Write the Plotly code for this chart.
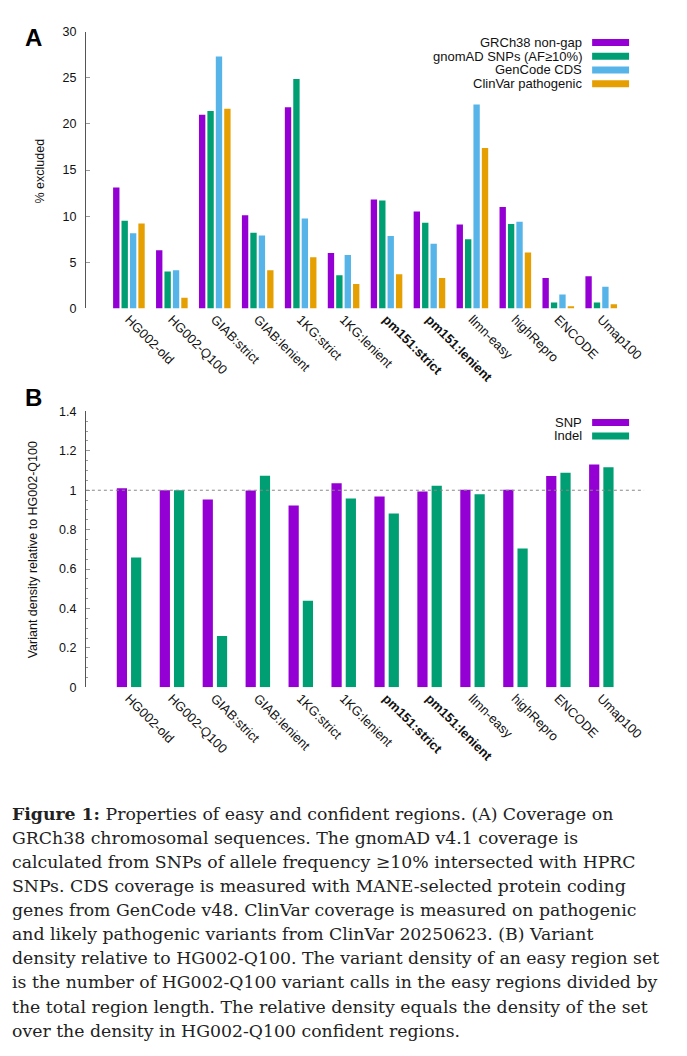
import plotly.graph_objects as go

# Page body has an 8px default margin; figure is sized to fit inside the window.
PAGE_W, PAGE_H = 687, 1056
BODY_MARGIN = 8
W, H = PAGE_W - 2 * BODY_MARGIN, PAGE_H - 2 * BODY_MARGIN
# observed vertical placement of the figure in the captured page
Y_OFF, Y_SCALE = 14.4, 0.987

categories = ["HG002-old", "HG002-Q100", "GIAB:strict", "GIAB:lenient", "1KG:strict",
              "1KG:lenient", "pm151:strict", "pm151:lenient", "llmn-easy", "highRepro",
              "ENCODE", "Umap100"]
tick_labels = ["HG002-old", "HG002-Q100", "GIAB:strict", "GIAB:lenient", "1KG:strict",
               "1KG:lenient", "<b>pm151:strict</b>", "<b>pm151:lenient</b>", "llmn-easy",
               "highRepro", "ENCODE", "Umap100"]

# Panel A: % excluded
series_a_names = ["GRCh38 non-gap", "gnomAD SNPs (AF≥10%)", "GenCode CDS", "ClinVar pathogenic"]
grch38_nongap = [13.1, 6.3, 21.0, 10.1, 21.8, 6.0, 11.8, 10.5, 9.1, 11.0, 3.3, 3.5]
gnomad_snps = [9.5, 4.0, 21.4, 8.2, 24.85, 3.6, 11.7, 9.3, 7.5, 9.15, 0.65, 0.65]
gencode_cds = [8.15, 4.15, 27.3, 7.9, 9.75, 5.8, 7.85, 7.0, 22.1, 9.4, 1.5, 2.35]
clinvar_path = [9.2, 1.15, 21.65, 4.15, 5.55, 2.65, 3.7, 3.3, 17.4, 6.05, 0.25, 0.45]

# Panel B: variant density relative to HG002-Q100
series_b_names = ["SNP", "Indel"]
snp_density = [1.01, 1.0, 0.953, 0.998, 0.922, 1.035, 0.968, 0.993, 1.003, 1.003, 1.072, 1.13]
indel_density = [0.659, 1.0, 0.26, 1.074, 0.439, 0.958, 0.882, 1.023, 0.98, 0.704, 1.089, 1.116]

colors = ["#9400D3", "#009E73", "#56B4E9", "#E69F00"]

caption_lines = [
    "<b>Figure 1:</b> Properties of easy and confident regions. (A) Coverage on",
    "GRCh38 chromosomal sequences. The gnomAD v4.1 coverage is",
    "calculated from SNPs of allele frequency ≥10% intersected with HPRC",
    "SNPs. CDS coverage is measured with MANE-selected protein coding",
    "genes from GenCode v48. ClinVar coverage is measured on pathogenic",
    "and likely pathogenic variants from ClinVar 20250623. (B) Variant",
    "density relative to HG002-Q100. The variant density of an easy region set",
    "is the number of HG002-Q100 variant calls in the easy regions divided by",
    "the total region length. The relative density equals the density of the set",
    "over the density in HG002-Q100 confident regions.",
]

# bar geometry (category units)
A_WIDTH = 0.148
A_OFFSETS = [-0.366, -0.170, 0.026, 0.222]
B_WIDTH = 0.238
B_OFFSETS = [-0.280, 0.052]

fig = go.Figure()
for name, vals, col, off in zip(series_a_names, [grch38_nongap, gnomad_snps, gencode_cds, clinvar_path],
                                colors, A_OFFSETS):
    fig.add_trace(go.Bar(x=categories, y=vals, name=name, marker_color=col,
                         marker_line_width=0, xaxis="x", yaxis="y", showlegend=False,
                         width=A_WIDTH, offset=off))
for name, vals, col, off in zip(series_b_names, [snp_density, indel_density], colors[:2], B_OFFSETS):
    fig.add_trace(go.Bar(x=categories, y=vals, name=name, marker_color=col,
                         marker_line_width=0, xaxis="x2", yaxis="y2", showlegend=False,
                         width=B_WIDTH, offset=off))


def px_x(x):
    """target page pixel -> paper fraction"""
    return (x - BODY_MARGIN) / W


def px_y(y):
    return 1 - ((y - Y_OFF) / Y_SCALE) / H


sans = "Liberation Sans, Arial, sans-serif"
xdom = [px_x(86), px_x(645)]
tickfont = dict(family=sans, size=13, color="#111")
common_x = dict(type="category", range=[-1, 12], tickvals=categories, ticktext=tick_labels,
                tickangle=45, showline=False, showgrid=False, zeroline=False, ticks="",
                tickfont=tickfont, domain=xdom)
common_y = dict(showline=True, linecolor="#555", linewidth=1, showgrid=False, zeroline=False,
                ticks="inside", ticklen=4, tickcolor="#999", tickwidth=1,
                tickfont=dict(family=sans, size=12.5, color="#111"),
                ticklabelstandoff=6)

fig.update_layout(
    width=W, height=H, margin=dict(l=0, r=0, t=0, b=0),
    paper_bgcolor="white", plot_bgcolor="white",
    barmode="overlay",
    xaxis=dict(**common_x, anchor="y"),
    yaxis=dict(**common_y, range=[0, 30], dtick=5,
               domain=[px_y(308), px_y(31)], anchor="x"),
    xaxis2=dict(**common_x, anchor="y2"),
    yaxis2=dict(**common_y, range=[0, 1.4], dtick=0.2, tickformat="~g",
                minor=dict(ticks="inside", dtick=0.05, ticklen=2, tickcolor="#999"),
                domain=[px_y(687), px_y(411)], anchor="x2"),
    font=dict(family=sans),
)

shapes = []
annotations = []

# dotted reference line at 1 in panel B
shapes.append(dict(type="line", xref="x2 domain", yref="y2", x0=0, x1=1, y0=1, y1=1,
                   line=dict(color="#888", width=1, dash="dot")))

# Legends: right-aligned text with the swatch on the right
legfont = dict(family=sans, size=13, color="#111")
for i, (name, col) in enumerate(zip(series_a_names, colors)):
    yc = 42 + 13.7 * i
    annotations.append(dict(x=px_x(585), y=px_y(yc), xref="paper", yref="paper", text=name,
                            showarrow=False, xanchor="right", yanchor="middle", font=legfont))
    shapes.append(dict(type="rect", xref="paper", yref="paper", x0=px_x(593), x1=px_x(630),
                       y0=px_y(yc + 3.5), y1=px_y(yc - 3.5), fillcolor=col, line=dict(width=0)))
for i, (name, col) in enumerate(zip(series_b_names, colors[:2])):
    yc = 422 + 13.5 * i
    annotations.append(dict(x=px_x(585), y=px_y(yc), xref="paper", yref="paper", text=name,
                            showarrow=False, xanchor="right", yanchor="middle", font=legfont))
    shapes.append(dict(type="rect", xref="paper", yref="paper", x0=px_x(593), x1=px_x(630),
                       y0=px_y(yc + 3.5), y1=px_y(yc - 3.5), fillcolor=col, line=dict(width=0)))

# Axis titles
annotations.append(dict(x=px_x(40), y=px_y(170), xref="paper", yref="paper", text="% excluded",
                        textangle=-90, showarrow=False, xanchor="center", yanchor="middle",
                        font=dict(family=sans, size=12.5, color="#111")))
annotations.append(dict(x=px_x(33), y=px_y(549), xref="paper", yref="paper",
                        text="Variant density relative to HG002-Q100",
                        textangle=-90, showarrow=False, xanchor="center", yanchor="middle",
                        font=dict(family=sans, size=12.5, color="#111")))

# Panel letters
for letter, yc in [("A", 37), ("B", 397)]:
    annotations.append(dict(x=px_x(23), y=px_y(yc), xref="paper", yref="paper",
                            text="<b>%s</b>" % letter, showarrow=False, xanchor="left",
                            yanchor="middle",
                            font=dict(family=sans, size=24, color="#000")))

# Caption
for i, line in enumerate(caption_lines):
    yc = 814 + 24.05 * i
    annotations.append(dict(x=px_x(10), y=px_y(yc), xref="paper", yref="paper", text=line,
                            showarrow=False, xanchor="left", yanchor="middle",
                            font=dict(family="DejaVu Serif, serif", size=17.3, color="#222")))

fig.update_layout(shapes=shapes, annotations=annotations)

fig.write_html("out.html")
